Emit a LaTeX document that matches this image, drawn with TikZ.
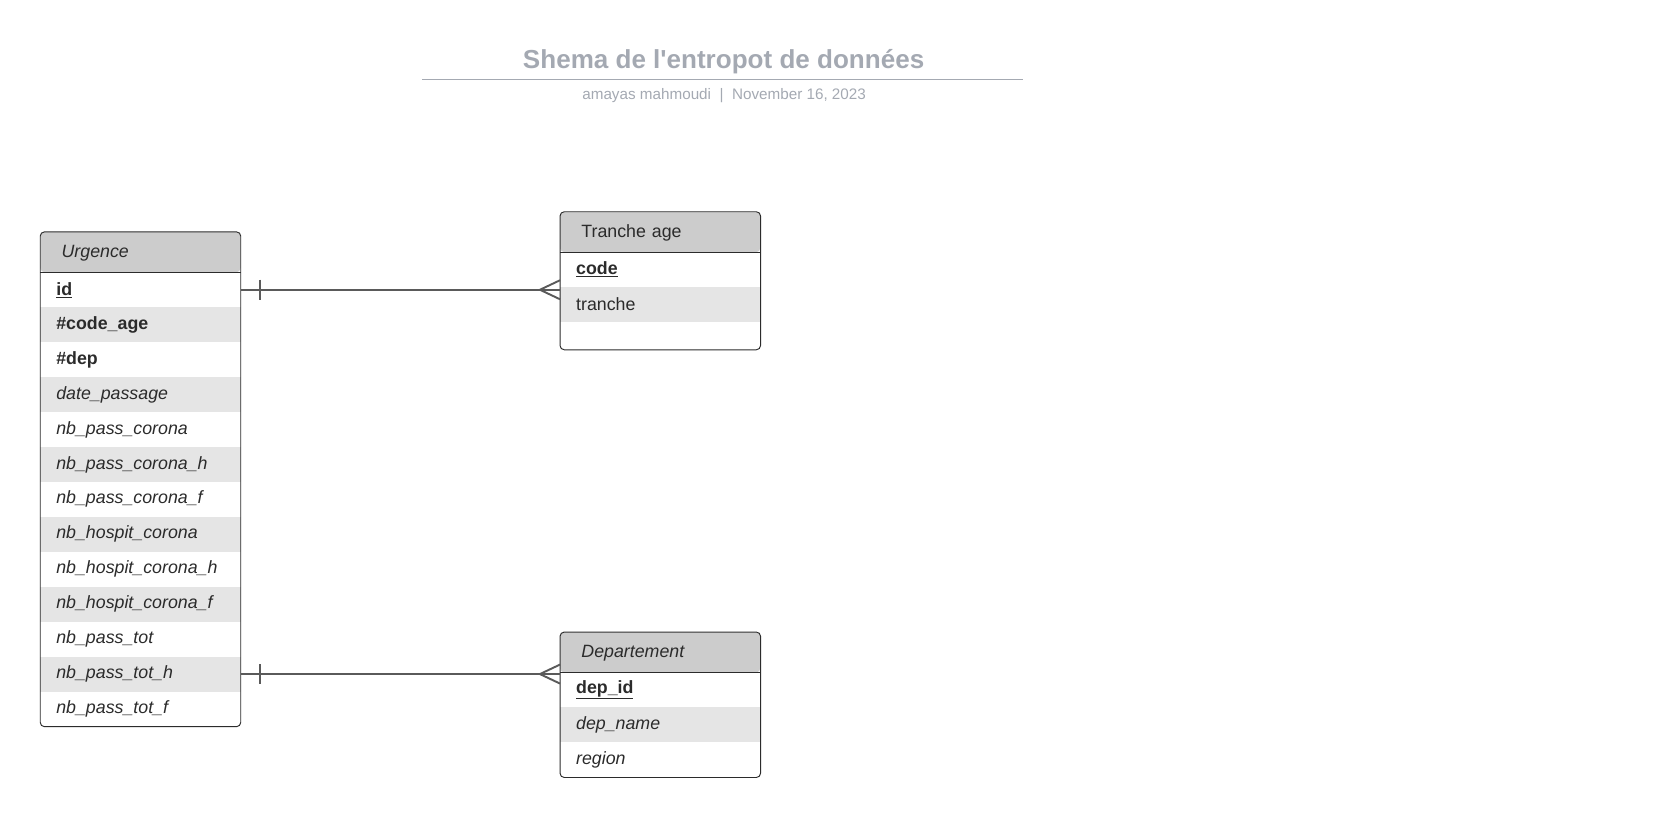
\documentclass[tikz,border=0pt]{standalone}
\usepackage{fontspec}
\setmainfont{Liberation Sans}[Ligatures=TeXOff]
\definecolor{headgray}{HTML}{CCCCCC}
\definecolor{stripe}{HTML}{E5E5E5}
\definecolor{ink}{HTML}{2B2B2B}
\definecolor{linegray}{HTML}{5A5A5A}
\definecolor{titlegray}{HTML}{A4A9B2}
\begin{document}
\begin{tikzpicture}
  [x=1pt,y=1pt,
   every node/.style={inner ysep=0pt,text=ink,font=\fontsize{16.8}{20}\selectfont},
   head/.style={anchor=north west,fill=headgray,rounded corners=4pt,minimum height=38pt,inner xsep=20pt,text width=149pt,text depth=1pt},
   row/.style={anchor=north west,minimum height=33pt,inner xsep=15pt,text width=159pt},
   alt/.style={row,fill=stripe},
   frame/.style={draw=ink,line width=0.9pt,rounded corners=4pt},
   link/.style={draw=linegray,line width=1.8pt}]
  \useasboundingbox (0,0) rectangle (1568,-772);

  % title
  \node[text=titlegray,font=\bfseries\fontsize{24.6}{29}\selectfont] (title) at (683.5,-58.5) {Shema de l'entropot de données};
  \draw[titlegray,line width=1.6pt] (399,-75) -- (966,-75);
  \node[text=titlegray,font=\fontsize{14.4}{17}\selectfont] (sub) at (684,-90.5) {amayas mahmoudi~~|~~November 16, 2023};

  % Urgence
  \node[head] (u0) at (38,-219) {\itshape Urgence};
  \foreach \i/\s/\txt in {1/row/{\textbf{\underline{id}}},2/alt/{\textbf{\#code\_age}},3/row/{\textbf{\#dep}},
      4/alt/{\itshape date\_passage},5/row/{\itshape nb\_pass\_corona},6/alt/{\itshape nb\_pass\_corona\_h},
      7/row/{\itshape nb\_pass\_corona\_f},8/alt/{\itshape nb\_hospit\_corona},9/row/{\itshape nb\_hospit\_corona\_h},
      10/alt/{\itshape nb\_hospit\_corona\_f},11/row/{\itshape nb\_pass\_tot},12/alt/{\itshape nb\_pass\_tot\_h},
      13/row/{\itshape nb\_pass\_tot\_f}}
    \node[\s] (u\i) at (38,{-257-33*(\i-1)}) {\txt};
  \draw[ink] (u0.south west) -- (u0.south east);
  \draw[frame] (u0.north west) rectangle (u13.south east);

  % Tranche age
  \node[head] (t0) at (529,-200) {Tranche age};
  \node[row] (t1) at (529,-238) {\textbf{\underline{code}}};
  \node[alt] (t2) at (529,-271) {tranche};
  \node[row,minimum height=26pt] (t3) at (529,-304) {};
  \draw[ink] (t0.south west) -- (t0.south east);
  \draw[frame] (t0.north west) rectangle (t3.south east);

  % Departement
  \node[head] (d0) at (529,-597) {\itshape Departement};
  \node[row] (d1) at (529,-635) {\textbf{\underline{dep\_id}}};
  \node[alt] (d2) at (529,-668) {\itshape dep\_name};
  \node[row] (d3) at (529,-701) {\itshape region};
  \draw[ink] (d0.south west) -- (d0.south east);
  \draw[frame] (d0.north west) rectangle (d3.south east);

  % links: one and only one -> many
  \foreach \from/\to in {u1/t0,u12/d0} {
    \coordinate (\from-end) at (\from.east -| \to.west);
    \draw[link] (\from.east) -- (\from-end);
    \draw[link] ([xshift=18pt,yshift=9.5pt]\from.east) -- ([xshift=18pt,yshift=-9.5pt]\from.east);
    \draw[link] ([yshift=9pt]\from-end) -- ([xshift=-19pt]\from-end) -- ([yshift=-9pt]\from-end);
  }
\end{tikzpicture}
\end{document}
